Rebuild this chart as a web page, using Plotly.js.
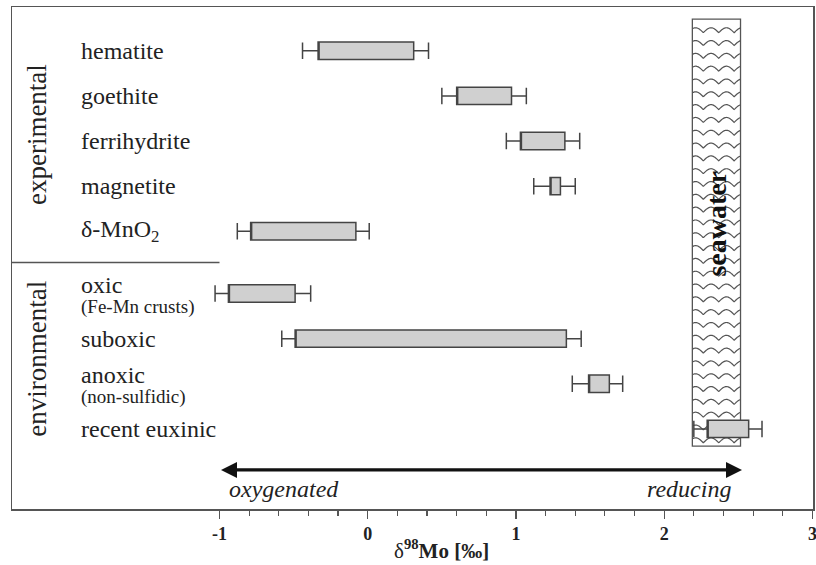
<!DOCTYPE html>
<html>
<head>
<meta charset="utf-8">
<script src="https://cdn.plot.ly/plotly-3.0.1.min.js"></script>
<style>html,body{margin:0;padding:0;background:#fff;}#chart{width:816px;height:565px;}</style>
</head>
<body>
<div id="chart"></div>
<script>
// ---- data ----
const labels = ['hematite', 'goethite', 'ferrihydrite', 'magnetite', 'δ-MnO<sub>2</sub>',
                'oxic', 'suboxic', 'anoxic', 'recent euxinic'];
const sublabels = ['', '', '', '', '', '(Fe-Mn crusts)', '', '(non-sulfidic)', ''];
const groups = ['experimental', 'experimental', 'experimental', 'experimental', 'experimental',
                'environmental', 'environmental', 'environmental', 'environmental'];
const whiskerLow  = [-0.44, 0.50, 0.935, 1.12, -0.88, -1.03, -0.58, 1.38, 2.20];
const boxLow      = [-0.335, 0.60, 1.03, 1.23, -0.79, -0.94, -0.49, 1.49, 2.29];
const boxHigh     = [0.31, 0.97, 1.33, 1.30, -0.08, -0.49, 1.34, 1.63, 2.57];
const whiskerHigh = [0.41, 1.07, 1.43, 1.40, 0.01, -0.385, 1.44, 1.72, 2.66];
const seawaterRange = [2.19, 2.515];
const tickValues = [-1, 0, 1, 2, 3];
const tickLabels = ['-1', '0', '1', '2', '3'];
const arrowLabels = ['oxygenated', 'reducing'];

// ---- layout helpers ----
const FONT = '"Liberation Serif", "Times New Roman", serif';
const TXT = '#222';
const LINE = '#555';
const GROUP_GAP = 0.38;
const rowPos = labels.map((_, i) => i + (groups[i] === 'environmental' ? GROUP_GAP : 0));
const nRows = labels.length;
const yMin = -0.97, yMax = 10.155;
const xMin = -2.4, xMax = 3.004;

const minorVals = [];
for (let k = 0; k <= 20; k++) {
  const v = Math.round((-1 + k * 0.2) * 10) / 10;
  if (!tickValues.includes(v)) minorVals.push(v);
}

const traces = [{
  type: 'box',
  orientation: 'h',
  y: rowPos,
  q1: boxLow,
  median: boxLow,
  q3: boxHigh,
  lowerfence: whiskerLow,
  upperfence: whiskerHigh,
  width: 0.385,
  whiskerwidth: 0.95,
  fillcolor: '#d0d0d0',
  line: {color: '#444', width: 1.5},
  boxpoints: false,
  hoverinfo: 'skip',
  showlegend: false
}];

// seawater box and wavy hatching
const swTop = rowPos[0] - 0.70;
const swBot = rowPos[nRows - 1] + 0.38;
const shapes = [];
shapes.push({type: 'rect', xref: 'x', yref: 'y', x0: seawaterRange[0], x1: seawaterRange[1],
  y0: swTop, y1: swBot, line: {color: LINE, width: 1.3}, fillcolor: '#fff', layer: 'below'});
const bump = 0.104, amp = 0.11, rowStep = 0.284;
for (let y0 = swTop + 0.3; y0 < swBot - 0.02; y0 += rowStep) {
  let p = '';
  const steps = 90;
  for (let s = 0; s <= steps; s++) {
    const x = seawaterRange[0] + (seawaterRange[1] - seawaterRange[0]) * s / steps;
    const y = y0 - amp * Math.abs(Math.sin(Math.PI * (x - seawaterRange[0] + 0.03) / bump));
    p += (s === 0 ? 'M' : 'L') + x.toFixed(4) + ',' + y.toFixed(4);
  }
  shapes.push({type: 'path', xref: 'x', yref: 'y', path: p, line: {color: '#555', width: 1.2}, layer: 'below'});
}
// separator between groups
const sepY = (rowPos[4] + rowPos[5]) / 2;
shapes.push({type: 'line', xref: 'x', yref: 'y', x0: xMin, x1: -1, y0: sepY, y1: sepY,
  line: {color: LINE, width: 1.5}});

const annotations = [];
const labelX = 0.0837;
labels.forEach((lab, i) => {
  if (sublabels[i]) {
    annotations.push({xref: 'paper', yref: 'y', x: labelX, y: rowPos[i] - 0.2, text: lab,
      showarrow: false, xanchor: 'left', yanchor: 'middle', font: {family: FONT, size: 24, color: TXT}});
    annotations.push({xref: 'paper', yref: 'y', x: labelX, y: rowPos[i] + 0.3, text: sublabels[i],
      showarrow: false, xanchor: 'left', yanchor: 'middle', font: {family: FONT, size: 19, color: TXT}});
  } else {
    annotations.push({xref: 'paper', yref: 'y', x: labelX, y: rowPos[i], text: lab,
      showarrow: false, xanchor: 'left', yanchor: 'middle', font: {family: FONT, size: 24, color: TXT}});
  }
});
// group labels
['experimental', 'environmental'].forEach(g => {
  const ys = rowPos.filter((_, i) => groups[i] === g);
  const c = (ys[0] + ys[ys.length - 1]) / 2;
  annotations.push({xref: 'paper', yref: 'y', x: 0.031, y: c - (g === 'experimental' ? 0.15 : 0.05), text: g,
    textangle: -90, showarrow: false, xanchor: 'center', yanchor: 'middle',
    font: {family: FONT, size: 27, color: TXT}});
});
// seawater label
annotations.push({xref: 'x', yref: 'y', x: (seawaterRange[0] + seawaterRange[1]) / 2, y: 3.82,
  text: '<b>seawater</b>', textangle: -90, showarrow: false,
  font: {family: FONT, size: 28, color: '#111'}});
// double arrow
const arrowY = 9.29;
annotations.push({xref: 'x', yref: 'y', axref: 'x', ayref: 'y', x: 2.525, y: arrowY, ax: -1, ay: arrowY,
  text: ' ', showarrow: true, arrowside: 'end+start', arrowhead: 2, startarrowhead: 2,
  arrowsize: 1, startarrowsize: 1, arrowwidth: 3.2, arrowcolor: '#111', standoff: 0, startstandoff: 0,
  font: {size: 1}});
annotations.push({xref: 'x', yref: 'y', x: -0.95, y: 9.71, text: arrowLabels[0], showarrow: false,
  xanchor: 'left', yanchor: 'middle', font: {family: FONT, size: 24, color: TXT, style: 'italic'}});
annotations.push({xref: 'x', yref: 'y', x: 2.465, y: 9.71, text: arrowLabels[1], showarrow: false,
  xanchor: 'right', yanchor: 'middle', font: {family: FONT, size: 24, color: TXT, style: 'italic'}});
// axis title
annotations.push({xref: 'paper', yref: 'paper', x: 0.536, y: -0.081,
  text: 'δ<sup><b>98</b></sup><b>Mo [‰]</b>',
  showarrow: false, xanchor: 'center', yanchor: 'middle', font: {family: FONT, size: 21, color: TXT}});

const layout = {
  width: 816, height: 565,
  margin: {l: 12, r: 3, t: 7, b: 56},
  paper_bgcolor: '#fff', plot_bgcolor: '#fff',
  showlegend: false,
  xaxis: {
    range: [xMin, xMax], showgrid: false, zeroline: false,
    showline: true, mirror: true, linecolor: LINE, linewidth: 1.5,
    tickmode: 'array', tickvals: tickValues, ticktext: tickLabels,
    ticks: 'outside', ticklen: 8, tickwidth: 1.3, tickcolor: LINE,
    ticklabeloverflow: 'allow',
    tickfont: {family: FONT, size: 18, color: TXT, weight: 'bold'},
    minor: {tickmode: 'array', tickvals: minorVals, ticks: 'outside', ticklen: 5, tickwidth: 1.2, tickcolor: LINE, showgrid: false}
  },
  yaxis: {
    range: [yMax, yMin], autorange: false, showgrid: false, zeroline: false,
    showline: true, mirror: true, linecolor: LINE, linewidth: 1.5,
    showticklabels: false, ticks: ''
  },
  shapes: shapes,
  annotations: annotations
};

Plotly.newPlot('chart', traces, layout, {staticPlot: true, displayModeBar: false});
</script>
</body>
</html>
